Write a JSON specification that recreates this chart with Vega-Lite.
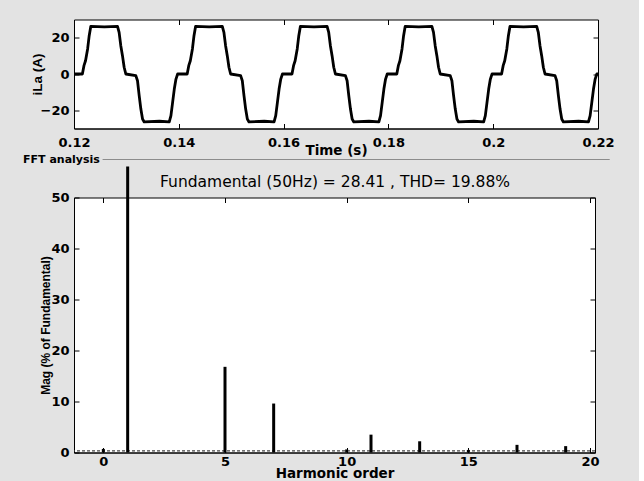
{
  "$schema": "https://vega.github.io/schema/vega-lite/v6.json",
  "background": "#e3e3e3",
  "padding": {"left": 22, "top": 18.5, "right": 24, "bottom": 0},
  "bounds": "flush",
  "spacing": 69,
  "config": {
    "view": {"fill": "white", "stroke": "black", "strokeWidth": 1},
    "axis": {
      "domainColor": "black", "tickColor": "black", "tickSize": -5,
      "labelColor": "black", "labelFont": "DejaVu Sans", "labelFontWeight": "bold", "labelFontSize": 13,
      "titleColor": "black", "titleFont": "DejaVu Sans", "titleFontWeight": "bold", "titleFontSize": 13.5,
      "grid": false, "labelFlush": false, "labelOverlap": false
    }
  },
  "datasets": {
    "wave": [
      {"t": 0.12, "i": 0},
      {"t": 0.1216, "i": 0}, {"t": 0.1219, "i": 4.6}, {"t": 0.1222, "i": 7.3}, {"t": 0.1226, "i": 13.8}, {"t": 0.1229, "i": 21.1}, {"t": 0.1232, "i": 26.2},
      {"t": 0.1258, "i": 25.9}, {"t": 0.1283, "i": 26.2}, {"t": 0.12861, "i": 22.9}, {"t": 0.12893, "i": 15.6}, {"t": 0.12925, "i": 10.1}, {"t": 0.12957, "i": 3.7}, {"t": 0.12989, "i": 0},
      {"t": 0.1318, "i": -0.9}, {"t": 0.13212, "i": -3.7}, {"t": 0.13244, "i": -11.9}, {"t": 0.13276, "i": -19.3}, {"t": 0.13308, "i": -24.8}, {"t": 0.1334, "i": -26.4},
      {"t": 0.1363, "i": -26.0}, {"t": 0.13818, "i": -26.4}, {"t": 0.1385, "i": -22.9}, {"t": 0.13882, "i": -15.6}, {"t": 0.13914, "i": -8.3}, {"t": 0.13946, "i": -2.8}, {"t": 0.13978, "i": 0},

      {"t": 0.1416, "i": 0}, {"t": 0.1419, "i": 4.6}, {"t": 0.1422, "i": 7.3}, {"t": 0.1426, "i": 13.8}, {"t": 0.1429, "i": 21.1}, {"t": 0.1432, "i": 26.2},
      {"t": 0.1458, "i": 25.9}, {"t": 0.1483, "i": 26.2}, {"t": 0.14861, "i": 22.9}, {"t": 0.14893, "i": 15.6}, {"t": 0.14925, "i": 10.1}, {"t": 0.14957, "i": 3.7}, {"t": 0.14989, "i": 0},
      {"t": 0.1518, "i": -0.9}, {"t": 0.15212, "i": -3.7}, {"t": 0.15244, "i": -11.9}, {"t": 0.15276, "i": -19.3}, {"t": 0.15308, "i": -24.8}, {"t": 0.1534, "i": -26.4},
      {"t": 0.1563, "i": -26.0}, {"t": 0.15818, "i": -26.4}, {"t": 0.1585, "i": -22.9}, {"t": 0.15882, "i": -15.6}, {"t": 0.15914, "i": -8.3}, {"t": 0.15946, "i": -2.8}, {"t": 0.15978, "i": 0},

      {"t": 0.1616, "i": 0}, {"t": 0.1619, "i": 4.6}, {"t": 0.1622, "i": 7.3}, {"t": 0.1626, "i": 13.8}, {"t": 0.1629, "i": 21.1}, {"t": 0.1632, "i": 26.2},
      {"t": 0.1658, "i": 25.9}, {"t": 0.1683, "i": 26.2}, {"t": 0.16861, "i": 22.9}, {"t": 0.16893, "i": 15.6}, {"t": 0.16925, "i": 10.1}, {"t": 0.16957, "i": 3.7}, {"t": 0.16989, "i": 0},
      {"t": 0.1718, "i": -0.9}, {"t": 0.17212, "i": -3.7}, {"t": 0.17244, "i": -11.9}, {"t": 0.17276, "i": -19.3}, {"t": 0.17308, "i": -24.8}, {"t": 0.1734, "i": -26.4},
      {"t": 0.1763, "i": -26.0}, {"t": 0.17818, "i": -26.4}, {"t": 0.1785, "i": -22.9}, {"t": 0.17882, "i": -15.6}, {"t": 0.17914, "i": -8.3}, {"t": 0.17946, "i": -2.8}, {"t": 0.17978, "i": 0},

      {"t": 0.1816, "i": 0}, {"t": 0.1819, "i": 4.6}, {"t": 0.1822, "i": 7.3}, {"t": 0.1826, "i": 13.8}, {"t": 0.1829, "i": 21.1}, {"t": 0.1832, "i": 26.2},
      {"t": 0.1858, "i": 25.9}, {"t": 0.1883, "i": 26.2}, {"t": 0.18861, "i": 22.9}, {"t": 0.18893, "i": 15.6}, {"t": 0.18925, "i": 10.1}, {"t": 0.18957, "i": 3.7}, {"t": 0.18989, "i": 0},
      {"t": 0.1918, "i": -0.9}, {"t": 0.19212, "i": -3.7}, {"t": 0.19244, "i": -11.9}, {"t": 0.19276, "i": -19.3}, {"t": 0.19308, "i": -24.8}, {"t": 0.1934, "i": -26.4},
      {"t": 0.1963, "i": -26.0}, {"t": 0.19818, "i": -26.4}, {"t": 0.1985, "i": -22.9}, {"t": 0.19882, "i": -15.6}, {"t": 0.19914, "i": -8.3}, {"t": 0.19946, "i": -2.8}, {"t": 0.19978, "i": 0},

      {"t": 0.2016, "i": 0}, {"t": 0.2019, "i": 4.6}, {"t": 0.2022, "i": 7.3}, {"t": 0.2026, "i": 13.8}, {"t": 0.2029, "i": 21.1}, {"t": 0.2032, "i": 26.2},
      {"t": 0.2058, "i": 25.9}, {"t": 0.2083, "i": 26.2}, {"t": 0.20861, "i": 22.9}, {"t": 0.20893, "i": 15.6}, {"t": 0.20925, "i": 10.1}, {"t": 0.20957, "i": 3.7}, {"t": 0.20989, "i": 0},
      {"t": 0.2118, "i": -0.9}, {"t": 0.21212, "i": -3.7}, {"t": 0.21244, "i": -11.9}, {"t": 0.21276, "i": -19.3}, {"t": 0.21308, "i": -24.8}, {"t": 0.2134, "i": -26.4},
      {"t": 0.2163, "i": -26.0}, {"t": 0.21818, "i": -26.4}, {"t": 0.2185, "i": -22.9}, {"t": 0.21882, "i": -15.6}, {"t": 0.21914, "i": -8.3}, {"t": 0.21946, "i": -2.8}, {"t": 0.21978, "i": 0},
      {"t": 0.22, "i": 0}
    ],
    "harm": [
      {"order": 0, "mag": 0.7},
      {"order": 1, "mag": 56.1},
      {"order": 5, "mag": 16.8},
      {"order": 7, "mag": 9.6},
      {"order": 10, "mag": 0.6},
      {"order": 11, "mag": 3.5},
      {"order": 13, "mag": 2.2},
      {"order": 15, "mag": 0.5},
      {"order": 17, "mag": 1.5},
      {"order": 19, "mag": 1.25}
    ]
  },
  "vconcat": [
    {
      "width": 524,
      "height": 109,
      "data": {"name": "wave"},
      "layer": [
        {
          "mark": {"type": "line", "color": "black", "strokeWidth": 2.8, "strokeJoin": "round", "clip": true},
          "encoding": {
            "x": {"field": "t", "type": "quantitative", "scale": {"domain": [0.12, 0.22], "nice": false, "zero": false},
                  "axis": {"orient": "bottom", "values": [0.12, 0.14, 0.16, 0.18, 0.2, 0.22], "format": "~g", "title": "Time (s)", "labelPadding": 13, "titlePadding": -6}},
            "y": {"field": "i", "type": "quantitative", "scale": {"domain": [-30, 30], "nice": false, "zero": false},
                  "axis": {"orient": "left", "values": [-20, 0, 20], "title": "iLa (A)", "titleFont": "Liberation Sans", "titleFontSize": 13.5, "labelPadding": 10, "titlePadding": -4}}
          }
        },
        {
          "mark": {"type": "line", "opacity": 0},
          "encoding": {
            "x": {"field": "t", "type": "quantitative", "axis": {"orient": "top", "values": [0.12, 0.14, 0.16, 0.18, 0.2, 0.22], "labels": false, "title": null, "domain": false}},
            "y": {"field": "i", "type": "quantitative", "axis": {"orient": "right", "values": [-20, 0, 20], "labels": false, "title": null, "domain": false}}
          }
        }
      ],
      "resolve": {"axis": {"x": "independent", "y": "independent"}}
    },
    {
      "width": 521,
      "height": 255,
      "layer": [
        {
          "data": {"values": [{}]},
          "mark": {"type": "rule", "color": "#444444", "strokeDash": [3, 2], "strokeWidth": 1.3},
          "encoding": {"y": {"datum": 0.3, "type": "quantitative", "axis": null}}
        },
        {
          "data": {"name": "harm"},
          "mark": {"type": "bar", "color": "black", "size": 3, "clip": false},
          "encoding": {
            "x": {"field": "order", "type": "quantitative", "scale": {"domain": [-1, 20], "nice": false, "zero": false},
                  "axis": {"orient": "bottom", "values": [0, 5, 10, 15, 20], "title": "Harmonic order", "labelPadding": 8, "titlePadding": -2}},
            "y": {"field": "mag", "type": "quantitative", "scale": {"domain": [0, 50], "nice": false},
                  "axis": {"orient": "left", "values": [0, 10, 20, 30, 40, 50], "title": "Mag (% of Fundamental)", "titleFont": "Liberation Sans", "titleFontSize": 12, "labelPadding": 10, "titlePadding": -2}}
          }
        },
        {
          "data": {"name": "harm"},
          "mark": {"type": "bar", "opacity": 0, "size": 3},
          "encoding": {
            "x": {"field": "order", "type": "quantitative",
                  "axis": {"orient": "top", "values": [0, 5, 10, 15, 20], "labels": false, "domain": false,
                           "title": "Fundamental (50Hz) = 28.41 , THD= 19.88%", "titleFontWeight": "normal", "titleFontSize": 15.5, "titlePadding": 8}},
            "y": {"field": "mag", "type": "quantitative",
                  "axis": {"orient": "right", "values": [0, 10, 20, 30, 40, 50], "labels": false, "title": null, "domain": false}}
          }
        },
        {
          "data": {"values": [{}]},
          "mark": {"type": "text", "text": "FFT analysis", "align": "left", "baseline": "middle", "font": "DejaVu Sans", "fontWeight": "bold", "fontSize": 11, "color": "black", "clip": false},
          "encoding": {
            "x": {"datum": -3.3, "type": "quantitative", "axis": null},
            "y": {"datum": 57.45, "type": "quantitative", "axis": null}
          }
        },
        {
          "data": {"values": [{}]},
          "mark": {"type": "rule", "color": "#8c8c8c", "strokeWidth": 1, "clip": false},
          "encoding": {
            "x": {"datum": -0.03, "type": "quantitative", "axis": null},
            "x2": {"datum": 20.81},
            "y": {"datum": 57.45, "type": "quantitative", "axis": null}
          }
        }
      ],
      "resolve": {"axis": {"x": "independent", "y": "independent"}}
    }
  ]
}
